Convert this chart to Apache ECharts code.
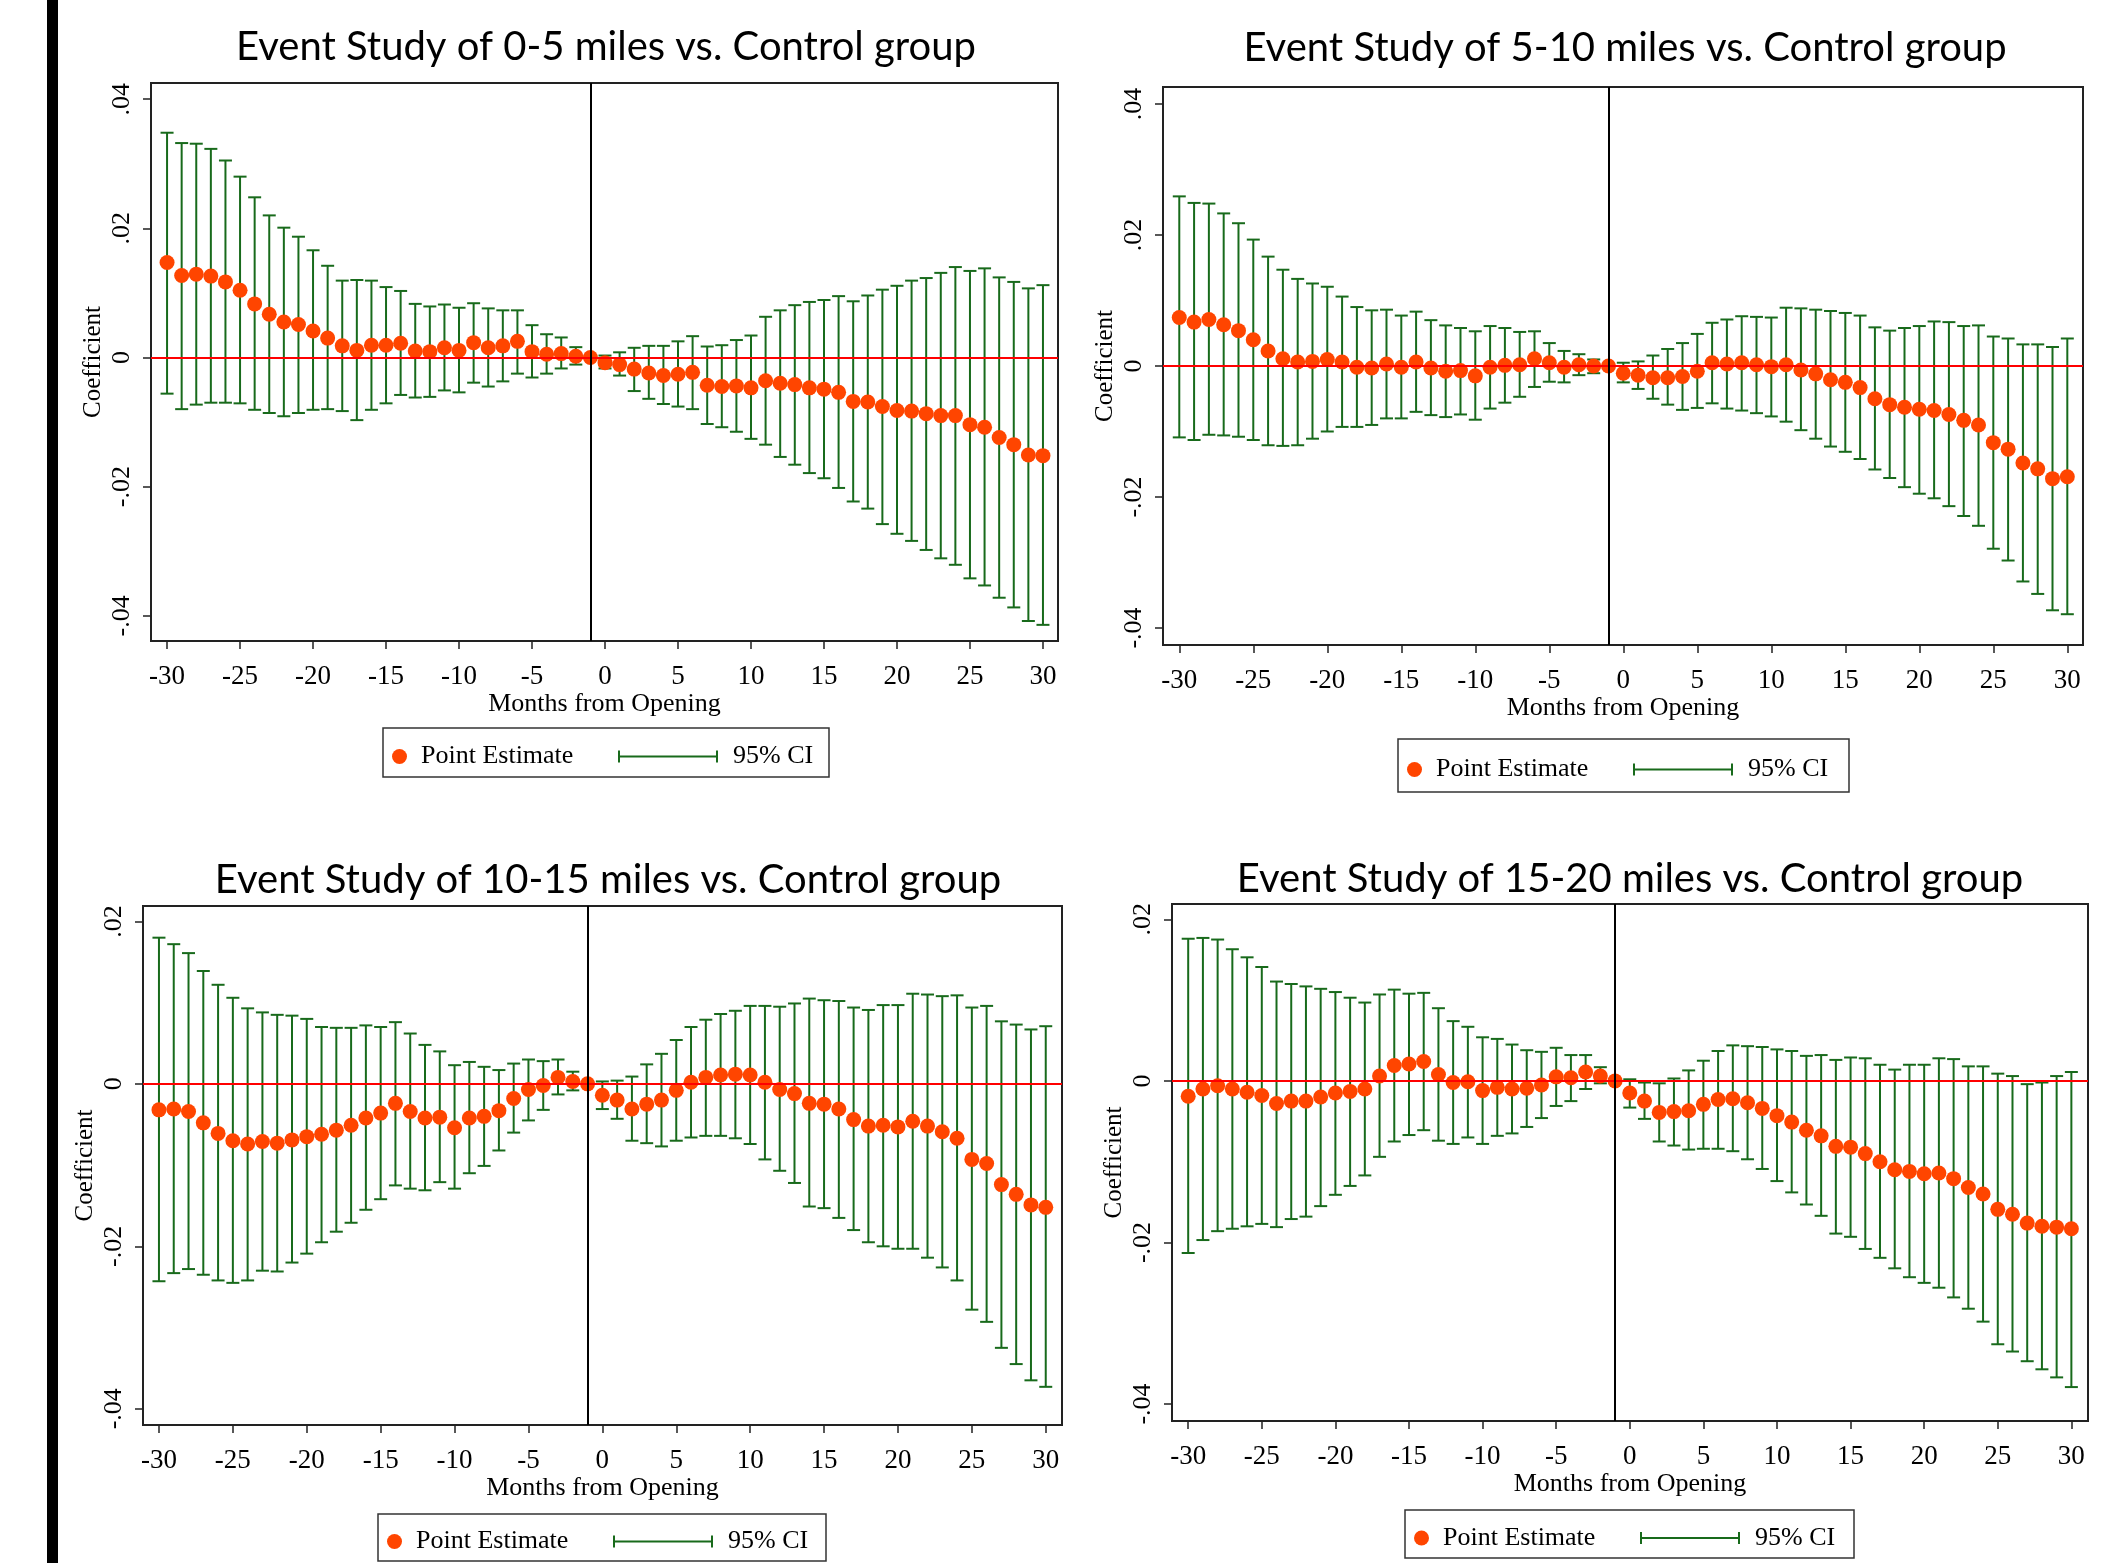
<!DOCTYPE html>
<html>
<head>
<meta charset="utf-8">
<script src="https://cdn.jsdelivr.net/npm/echarts@6/dist/echarts.min.js"></script>
<style>
  html, body { margin: 0; padding: 0; background: #fff; }
  #chart { width: 2110px; height: 1563px; }
</style>
</head>
<body>
<div id="chart"></div>
<script>
// months from opening (x values) and tick labels
const months = [-30,-29,-28,-27,-26,-25,-24,-23,-22,-21,-20,-19,-18,-17,-16,-15,-14,-13,-12,-11,
                -10,-9,-8,-7,-6,-5,-4,-3,-2,-1,0,1,2,3,4,5,6,7,8,9,10,11,12,13,14,15,16,17,18,19,
                20,21,22,23,24,25,26,27,28,29,30];
const xTicks = [-30,-25,-20,-15,-10,-5,0,5,10,15,20,25,30];
const yTicksTop = [-0.04,-0.02,0,0.02,0.04];
const yTicksBottom = [-0.04,-0.02,0,0.02];
const titles = ['Event Study of 0-5 miles vs. Control group',
                'Event Study of 5-10 miles vs. Control group',
                'Event Study of 10-15 miles vs. Control group',
                'Event Study of 15-20 miles vs. Control group'];

// 0-5 miles
const pe05 = [0.0147,0.0127,0.0129,0.0126,0.0117,0.0104,0.0083,0.0067,0.0055,0.0051,0.0041,0.0030,0.0018,0.0011,0.0019,
  0.0019,0.0022,0.0010,0.0009,0.0015,0.0011,0.0023,0.0015,0.0018,0.0025,0.0009,0.0005,0.0006,0.0002,0,
  -0.0008,-0.0011,-0.0018,-0.0024,-0.0028,-0.0026,-0.0023,-0.0043,-0.0045,-0.0044,-0.0047,-0.0036,-0.0040,-0.0042,-0.0047,
  -0.0049,-0.0054,-0.0068,-0.0069,-0.0076,-0.0082,-0.0083,-0.0087,-0.0090,-0.0090,-0.0104,-0.0108,-0.0124,-0.0135,-0.0151,-0.0152];
const hi05 = [0.0348,0.0332,0.0331,0.0323,0.0305,0.0280,0.0248,0.0220,0.0201,0.0187,0.0166,0.0142,0.0119,0.0120,0.0119,
  0.0109,0.0103,0.0083,0.0079,0.0082,0.0077,0.0084,0.0076,0.0073,0.0073,0.0050,0.0036,0.0031,0.0016,null,
  0.0003,0.0008,0.0015,0.0018,0.0018,0.0025,0.0033,0.0017,0.0019,0.0027,0.0034,0.0063,0.0073,0.0081,0.0086,
  0.0089,0.0095,0.0087,0.0096,0.0105,0.0111,0.0119,0.0123,0.0131,0.0140,0.0134,0.0138,0.0124,0.0117,0.0107,0.0112];
const lo05 = [-0.0056,-0.0080,-0.0073,-0.0070,-0.0070,-0.0071,-0.0081,-0.0086,-0.0091,-0.0086,-0.0081,-0.0080,-0.0083,-0.0097,-0.0081,
  -0.0071,-0.0058,-0.0062,-0.0061,-0.0051,-0.0054,-0.0039,-0.0045,-0.0037,-0.0025,-0.0031,-0.0025,-0.0017,-0.0011,null,
  -0.0017,-0.0028,-0.0052,-0.0064,-0.0072,-0.0076,-0.0080,-0.0103,-0.0108,-0.0115,-0.0126,-0.0135,-0.0154,-0.0166,-0.0179,
  -0.0187,-0.0202,-0.0223,-0.0234,-0.0258,-0.0273,-0.0284,-0.0298,-0.0311,-0.0321,-0.0342,-0.0353,-0.0372,-0.0387,-0.0408,-0.0414];

// 5-10 miles
const pe510 = [0.0074,0.0067,0.0071,0.0063,0.0054,0.0040,0.0023,0.0011,0.0006,0.0007,0.0010,0.0006,-0.0002,-0.0003,0.0003,
  -0.0002,0.0006,-0.0003,-0.0008,-0.0007,-0.0015,-0.0002,0.0001,0.0002,0.0011,0.0005,-0.0002,0.0002,0.0000,0,
  -0.0011,-0.0014,-0.0018,-0.0018,-0.0016,-0.0008,0.0005,0.0003,0.0005,0.0002,-0.0001,0.0002,-0.0006,-0.0012,-0.0021,
  -0.0025,-0.0033,-0.0050,-0.0059,-0.0063,-0.0066,-0.0068,-0.0074,-0.0083,-0.0090,-0.0117,-0.0127,-0.0148,-0.0157,-0.0172,-0.0169];
const hi510 = [0.0259,0.0249,0.0248,0.0233,0.0218,0.0193,0.0167,0.0147,0.0133,0.0126,0.0121,0.0106,0.0090,0.0085,0.0086,
  0.0077,0.0083,0.0070,0.0062,0.0058,0.0053,0.0061,0.0058,0.0052,0.0053,0.0035,0.0023,0.0018,0.0010,null,
  0.0005,0.0007,0.0016,0.0026,0.0035,0.0049,0.0066,0.0071,0.0076,0.0075,0.0074,0.0089,0.0088,0.0086,0.0084,
  0.0081,0.0077,0.0059,0.0054,0.0058,0.0061,0.0068,0.0067,0.0061,0.0062,0.0045,0.0042,0.0033,0.0033,0.0029,0.0042];
const lo510 = [-0.0109,-0.0113,-0.0105,-0.0106,-0.0108,-0.0113,-0.0121,-0.0122,-0.0121,-0.0111,-0.0100,-0.0093,-0.0093,-0.0090,-0.0080,
  -0.0080,-0.0070,-0.0075,-0.0078,-0.0074,-0.0082,-0.0065,-0.0056,-0.0047,-0.0032,-0.0024,-0.0025,-0.0014,-0.0011,null,
  -0.0025,-0.0035,-0.0050,-0.0059,-0.0067,-0.0064,-0.0057,-0.0065,-0.0068,-0.0072,-0.0077,-0.0085,-0.0098,-0.0111,-0.0123,
  -0.0131,-0.0142,-0.0158,-0.0171,-0.0185,-0.0195,-0.0202,-0.0214,-0.0229,-0.0244,-0.0279,-0.0297,-0.0329,-0.0348,-0.0373,-0.0379];

// 10-15 miles
const pe1015 = [-0.0032,-0.0031,-0.0034,-0.0048,-0.0061,-0.0070,-0.0074,-0.0071,-0.0073,-0.0069,-0.0065,-0.0062,-0.0057,-0.0051,-0.0042,
  -0.0036,-0.0024,-0.0034,-0.0042,-0.0041,-0.0054,-0.0042,-0.0040,-0.0033,-0.0018,-0.0007,-0.0002,0.0008,0.0003,0,
  -0.0014,-0.0020,-0.0031,-0.0025,-0.0020,-0.0008,0.0002,0.0008,0.0011,0.0012,0.0011,0.0002,-0.0007,-0.0012,-0.0024,
  -0.0025,-0.0031,-0.0044,-0.0052,-0.0051,-0.0053,-0.0046,-0.0052,-0.0059,-0.0067,-0.0093,-0.0098,-0.0124,-0.0136,-0.0149,-0.0152];
const hi1015 = [0.0180,0.0172,0.0161,0.0139,0.0122,0.0106,0.0093,0.0088,0.0085,0.0084,0.0080,0.0070,0.0069,0.0069,0.0072,
  0.0070,0.0076,0.0062,0.0048,0.0040,0.0023,0.0027,0.0021,0.0017,0.0025,0.0030,0.0028,0.0030,0.0015,null,
  0.0003,0.0004,0.0009,0.0024,0.0037,0.0054,0.0070,0.0079,0.0086,0.0090,0.0096,0.0096,0.0095,0.0099,0.0105,
  0.0103,0.0102,0.0094,0.0091,0.0097,0.0097,0.0111,0.0110,0.0108,0.0109,0.0094,0.0096,0.0077,0.0073,0.0067,0.0071];
const lo1015 = [-0.0243,-0.0233,-0.0228,-0.0235,-0.0242,-0.0245,-0.0242,-0.0230,-0.0231,-0.0220,-0.0209,-0.0195,-0.0182,-0.0171,-0.0155,
  -0.0142,-0.0125,-0.0129,-0.0131,-0.0121,-0.0129,-0.0110,-0.0101,-0.0082,-0.0060,-0.0045,-0.0032,-0.0013,-0.0008,null,
  -0.0031,-0.0043,-0.0070,-0.0073,-0.0077,-0.0070,-0.0066,-0.0064,-0.0064,-0.0067,-0.0074,-0.0093,-0.0107,-0.0122,-0.0151,
  -0.0153,-0.0165,-0.0180,-0.0195,-0.0200,-0.0203,-0.0203,-0.0214,-0.0226,-0.0242,-0.0278,-0.0293,-0.0325,-0.0345,-0.0365,-0.0373];

// 15-20 miles
const pe1520 = [-0.0019,-0.0010,-0.0006,-0.0010,-0.0014,-0.0018,-0.0028,-0.0025,-0.0025,-0.0020,-0.0015,-0.0013,-0.0010,0.0006,0.0019,
  0.0021,0.0024,0.0008,-0.0002,-0.0001,-0.0012,-0.0008,-0.0010,-0.0009,-0.0005,0.0005,0.0004,0.0011,0.0006,0,
  -0.0015,-0.0025,-0.0039,-0.0038,-0.0037,-0.0029,-0.0023,-0.0022,-0.0027,-0.0034,-0.0043,-0.0051,-0.0061,-0.0068,-0.0081,
  -0.0082,-0.0090,-0.0100,-0.0110,-0.0112,-0.0115,-0.0114,-0.0121,-0.0132,-0.0140,-0.0159,-0.0165,-0.0176,-0.0180,-0.0181,-0.0183];
const hi1520 = [0.0176,0.0177,0.0175,0.0163,0.0153,0.0141,0.0123,0.0120,0.0117,0.0114,0.0110,0.0103,0.0097,0.0107,0.0113,
  0.0108,0.0109,0.0090,0.0074,0.0067,0.0054,0.0052,0.0045,0.0038,0.0036,0.0041,0.0032,0.0032,0.0017,null,
  0.0002,-0.0002,-0.0003,0.0003,0.0013,0.0025,0.0037,0.0044,0.0043,0.0042,0.0039,0.0037,0.0031,0.0032,0.0026,
  0.0029,0.0028,0.0020,0.0014,0.0020,0.0020,0.0028,0.0027,0.0018,0.0018,0.0009,0.0006,-0.0004,-0.0002,0.0006,0.0011];
const lo1520 = [-0.0213,-0.0197,-0.0186,-0.0183,-0.0180,-0.0177,-0.0181,-0.0171,-0.0168,-0.0155,-0.0141,-0.0130,-0.0117,-0.0094,-0.0075,
  -0.0067,-0.0061,-0.0074,-0.0078,-0.0070,-0.0078,-0.0068,-0.0065,-0.0057,-0.0046,-0.0031,-0.0025,-0.0010,-0.0003,null,
  -0.0033,-0.0047,-0.0075,-0.0080,-0.0085,-0.0084,-0.0084,-0.0087,-0.0097,-0.0109,-0.0124,-0.0138,-0.0153,-0.0167,-0.0189,
  -0.0193,-0.0208,-0.0219,-0.0232,-0.0243,-0.0250,-0.0256,-0.0268,-0.0282,-0.0298,-0.0326,-0.0335,-0.0347,-0.0357,-0.0367,-0.0379];

const ORANGE = '#ff4500';
const GREEN = '#186a1b';
const SERIF = '"Liberation Serif", "Times New Roman", serif';
const SANS = 'Lato, "Open Sans", sans-serif';

// layout of the four panels (grid in px, axis ranges, title anchor, legend box)
const panels = [
  { pe: pe05, lo: lo05, hi: hi05, grid: [151, 83, 907, 558], x: [-31.1, 31.03], y: [-0.0439, 0.0425], yt: yTicksTop,
    title: [606, 27], legend: [383, 728, 446, 49] },
  { pe: pe510, lo: lo510, hi: hi510, grid: [1163, 87, 920, 558], x: [-31.1, 31.06], y: [-0.0426, 0.0426], yt: yTicksTop,
    title: [1625, 28], legend: [1398, 739, 451, 53] },
  { pe: pe1015, lo: lo1015, hi: hi1015, grid: [143, 906, 919, 519], x: [-31.08, 31.1], y: [-0.0420, 0.0219], yt: yTicksBottom,
    title: [608, 860], legend: [378, 1514, 448, 47] },
  { pe: pe1520, lo: lo1520, hi: hi1520, grid: [1172, 904, 916, 517], x: [-31.1, 31.13], y: [-0.0421, 0.0219], yt: yTicksBottom,
    title: [1630, 859], legend: [1405, 1510, 449, 48] }
];

function fmtY(v) {
  if (Math.abs(v) < 1e-9) return '0';
  return (v < 0 ? '-' : '') + Math.abs(v).toFixed(2).replace(/^0/, '');
}

function renderCI(params, api) {
  const lo = api.value(1), hi = api.value(2);
  if (isNaN(lo) || isNaN(hi)) return;
  const top = api.coord([api.value(0), hi]);
  const bot = api.coord([api.value(0), lo]);
  const half = 6.5;
  const style = { stroke: GREEN, lineWidth: 2 };
  return {
    type: 'group',
    children: [
      { type: 'line', shape: { x1: top[0], y1: top[1], x2: bot[0], y2: bot[1] }, style: style },
      { type: 'line', shape: { x1: top[0] - half, y1: top[1], x2: top[0] + half, y2: top[1] }, style: style },
      { type: 'line', shape: { x1: bot[0] - half, y1: bot[1], x2: bot[0] + half, y2: bot[1] }, style: style }
    ]
  };
}

const chart = echarts.init(document.getElementById('chart'), null, { renderer: 'canvas' });

let option = {
  animation: false,
  backgroundColor: '#fff',
  title: [],
  grid: [],
  xAxis: [],
  yAxis: [],
  legend: [],
  series: [],
  graphic: [
    // black bar at the left edge of the page
    { type: 'rect', shape: { x: 47, y: 0, width: 11, height: 1563 }, style: { fill: '#000' } }
  ]
};

panels.forEach((p, i) => {
  option.title.push({
    text: titles[i], left: p.title[0], top: p.title[1], textAlign: 'center', padding: 0,
    textStyle: { fontFamily: SANS, fontSize: 40, fontWeight: 'normal', color: '#000' }
  });
  option.grid.push({
    left: p.grid[0], top: p.grid[1], width: p.grid[2], height: p.grid[3],
    show: true, borderColor: '#222', borderWidth: 2, backgroundColor: '#fff'
  });
  option.xAxis.push({
    type: 'value', gridIndex: i, min: p.x[0], max: p.x[1],
    name: 'Months from Opening', nameLocation: 'middle', nameGap: 46,
    nameTextStyle: { fontFamily: SERIF, fontSize: 26, color: '#000' },
    axisLine: { show: true, onZero: false, lineStyle: { color: '#222', width: 2 } },
    axisTick: { show: true, length: 8, customValues: xTicks, lineStyle: { color: '#222', width: 1.5 } },
    axisLabel: { customValues: xTicks, margin: 22, fontFamily: SERIF, fontSize: 27, color: '#000' },
    splitLine: { show: false }
  });
  option.yAxis.push({
    type: 'value', gridIndex: i, min: p.y[0], max: p.y[1],
    name: 'Coefficient', nameLocation: 'middle', nameGap: 45, nameRotate: 90,
    nameTextStyle: { fontFamily: SERIF, fontSize: 25, color: '#000' },
    axisLine: { show: true, onZero: false, lineStyle: { color: '#222', width: 2 } },
    axisTick: { show: true, length: 8, customValues: p.yt, lineStyle: { color: '#222', width: 1.5 } },
    axisLabel: { customValues: p.yt, rotate: 90, margin: 16, formatter: fmtY, fontFamily: SERIF, fontSize: 26, color: '#000' },
    splitLine: { show: false }
  });

  option.series.push({
    name: '95% CI', type: 'custom', xAxisIndex: i, yAxisIndex: i,
    renderItem: renderCI, encode: { x: 0, y: [1, 2] },
    itemStyle: { color: GREEN }, z: 2, silent: true,
    data: months.map((m, k) => [m, p.lo[k] === null ? '-' : p.lo[k], p.hi[k] === null ? '-' : p.hi[k]]),
    markLine: {
      silent: true, symbol: 'none', animation: false, label: { show: false },
      data: [
        { yAxis: 0, lineStyle: { color: '#ff0000', width: 2, type: 'solid' } },
        { xAxis: -1, lineStyle: { color: '#000', width: 2, type: 'solid' } }
      ]
    }
  });
  option.series.push({
    name: 'Point Estimate', type: 'scatter', xAxisIndex: i, yAxisIndex: i,
    symbol: 'circle', symbolSize: 15, itemStyle: { color: ORANGE, opacity: 1 }, z: 4, silent: true,
    data: months.map((m, k) => [m, p.pe[k]])
  });

  // legend: bordered box with a dot item and a CI item
  const [bx, by, bw, bh] = p.legend;
  const cy = by + bh / 2;
  option.graphic.push({
    type: 'rect', shape: { x: bx, y: by, width: bw, height: bh },
    style: { fill: '#fff', stroke: '#333', lineWidth: 1.5 }, z: 0
  });
  option.legend.push({
    data: [{ name: 'Point Estimate', icon: 'circle' }],
    left: bx + 9, top: cy - 9, padding: 0, itemWidth: 23, itemHeight: 15, selectedMode: false,
    textStyle: { fontFamily: SERIF, fontSize: 26, color: '#000', lineHeight: 26, padding: [0, 0, 0, 5] }
  });
  option.legend.push({
    data: [{ name: '95% CI', icon: 'path://M0,0H2V12H0Z M0,5H100V7H0Z M98,0H100V12H98Z' }],
    left: bx + 235, top: cy - 9, padding: 0, itemWidth: 100, itemHeight: 12, selectedMode: false,
    itemStyle: { color: GREEN },
    textStyle: { fontFamily: SERIF, fontSize: 26, color: '#000', lineHeight: 26, padding: [0, 0, 0, 10] }
  });
});

chart.setOption(option);
</script>
</body>
</html>
